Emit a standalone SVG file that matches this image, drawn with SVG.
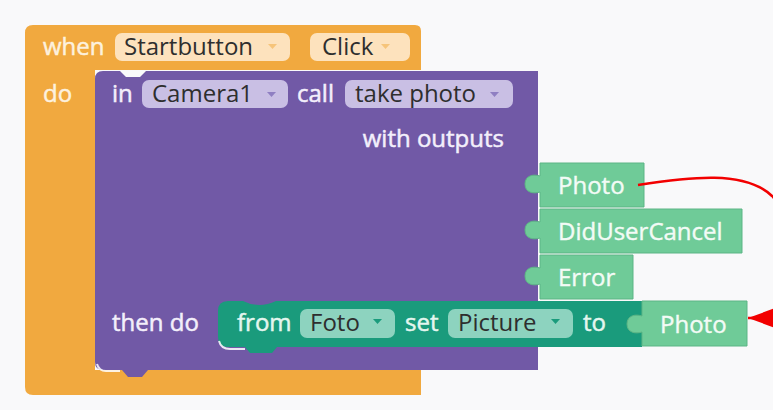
<svg xmlns="http://www.w3.org/2000/svg" xmlns:xlink="http://www.w3.org/1999/xlink" width="773" height="410" viewBox="0 0 773 410">
  <style>
    text { font-family: "Open Sans", "Noto Sans", "DejaVu Sans", sans-serif; font-size: 24px; }
    .lbl-event { fill: #fdf1de; stroke: #fdf1de; stroke-width: 0.5; }
    .lbl-proc { fill: #f3effb; stroke: #f3effb; stroke-width: 0.5; }
    .lbl-val { fill: #f3fbf6; stroke: #f3fbf6; stroke-width: 0.4; }
    .lbl-set { fill: #e4f6ef; stroke: #e4f6ef; stroke-width: 0.5; }
    .field { fill: #2e2e2e; }
    .pill-event { fill: #fde2bd; }
    .pill-proc { fill: #c9bfe4; }
    .pill-set { fill: #8dd3bf; }
    .blk-event { fill: #f1a93f; }
    .blk-proc { fill: #7159a6; }
    .blk-val { fill: #6fcb98; stroke: #5db585; stroke-width: 1; }
    .blk-set { fill: #1a9b7c; }
    .hl { fill: none; stroke: #ffffff; stroke-opacity: 0.85; stroke-width: 2; }
    .wire { fill: none; stroke: #f20000; stroke-width: 2.5; }
  </style>
  <defs>
    <path id="dd" d="M0,0 h9 l-4.5,5 z"/>
    <marker id="arrowhead" markerUnits="userSpaceOnUse" markerWidth="32" markerHeight="24" refX="30" refY="12" orient="auto">
      <path d="M0,1 L30,12 L0,23 z" fill="#f20000"/>
    </marker>
  </defs>

  <rect x="0" y="0" width="773" height="410" fill="#f9f9fa"/>

  <!-- when Startbutton.Click event -->
  <g id="event-block">
    <path class="blk-event" d="M25,33 Q25,25 33,25 H415 Q421,25 421,31 V70 H95 V370 H421 V395 H33 Q25,395 25,387 Z"/>
    <text class="lbl-event" x="43" y="55">when</text>
    <rect class="pill-event" x="115" y="33" width="175" height="28" rx="7"/>
    <text class="field" x="124" y="55">Startbutton</text>
    <use xlink:href="#dd" x="268" y="44" fill="#f6c47a"/>
    <rect class="pill-event" x="310" y="33" width="100" height="28" rx="7"/>
    <text class="field" x="322" y="55">Click</text>
    <use xlink:href="#dd" x="381" y="44" fill="#f6c47a"/>
    <text class="lbl-event" x="43" y="102">do</text>
  </g>

  <!-- in Camera1 call take photo -->
  <g id="camera-call">
    <path class="blk-proc" d="M103,71 H120 l6,6 h14 l6,-6 H538 V370 H148 l-6,7 h-14 l-6,-7 H103 Q95,370 95,362 V79 Q95,71 103,71 Z"/>
    <path class="hl" d="M97,364 Q99,371 106,371 H120"/>
    <text class="lbl-proc" x="112" y="102">in</text>
    <rect class="pill-proc" x="142" y="80" width="146" height="28" rx="7"/>
    <text class="field" x="152" y="102">Camera1</text>
    <use xlink:href="#dd" x="267" y="92" fill="#8f7fc2"/>
    <text class="lbl-proc" x="297" y="102">call</text>
    <rect class="pill-proc" x="345" y="80" width="168" height="28" rx="7"/>
    <text class="field" x="355" y="102">take photo</text>
    <use xlink:href="#dd" x="490" y="92" fill="#8f7fc2"/>
    <text class="lbl-proc" x="504" y="147" text-anchor="end">with outputs</text>
    <text class="lbl-proc" x="112" y="331">then do</text>
  </g>

  <!-- output: Photo -->
  <g id="output-photo">
    <path class="blk-val" d="M540,163 H644 V207 H540 V192 C534,194 525,193 525,184 C525,175 534,174 540,176 Z"/>
    <text class="lbl-val" x="558" y="194">Photo</text>
  </g>

  <!-- output: DidUserCancel -->
  <g id="output-didusercancel">
    <path class="blk-val" d="M540,209 H742 V253 H540 V238 C534,240 525,239 525,230 C525,221 534,220 540,222 Z"/>
    <text class="lbl-val" x="558" y="240">DidUserCancel</text>
  </g>

  <!-- output: Error -->
  <g id="output-error">
    <path class="blk-val" d="M540,255 H633 V299 H540 V284 C534,286 525,285 525,276 C525,267 534,266 540,268 Z"/>
    <text class="lbl-val" x="558" y="286">Error</text>
  </g>

  <!-- from Foto set Picture to -->
  <g id="setter">
    <path class="blk-set" d="M228,301 H243 Q259,309 276,301 H642 V347 H277 l-5,6 h-22 l-5,-6 H228 Q218,347 218,337 V311 Q218,301 228,301 Z"/>
    <path class="hl" d="M219,341 Q221,349 230,349 H245"/>
    <text class="lbl-set" x="237" y="331">from</text>
    <rect class="pill-set" x="300" y="309" width="95" height="29" rx="7"/>
    <text class="field" x="310" y="331">Foto</text>
    <use xlink:href="#dd" x="373" y="319" fill="#1a9b7c"/>
    <text class="lbl-set" x="405" y="331">set</text>
    <rect class="pill-set" x="448" y="309" width="125" height="29" rx="7"/>
    <text class="field" x="458" y="331">Picture</text>
    <use xlink:href="#dd" x="551" y="319" fill="#1a9b7c"/>
    <text class="lbl-set" x="583" y="331">to</text>
  </g>

  <!-- value getter: Photo -->
  <g id="photo-getter">
    <path class="blk-val" d="M642,301 H747 V346 H642 V332 C636,334 627,333 627,324 C627,315 636,314 642,316 Z"/>
    <text class="lbl-val" x="660" y="333">Photo</text>
  </g>

  <g id="connectors">
    <path class="wire" d="M638,185 C690,177 745,170 772,196 C800,225 800,318 770,318 L748,318" marker-end="url(#arrowhead)"/>
  </g>
</svg>
